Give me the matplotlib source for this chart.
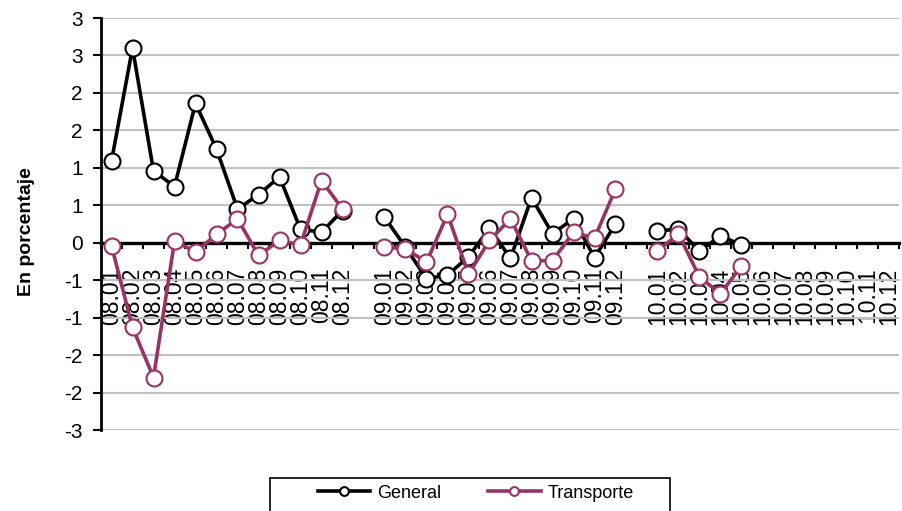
import numpy as np
import matplotlib
matplotlib.use("Agg")
import matplotlib.pyplot as plt
from matplotlib.patches import Rectangle

plt.rcParams['font.family'] = ['Liberation Sans', 'DejaVu Sans']

nan = np.nan
categories = (["08.%02d" % m for m in range(1, 13)] + [""] +
              ["09.%02d" % m for m in range(1, 13)] + [""] +
              ["10.%02d" % m for m in range(1, 13)])

general = [1.09, 2.60, 0.96, 0.75, 1.86, 1.25, 0.45, 0.64, 0.88, 0.18, 0.14, 0.43,
           nan,
           0.34, -0.06, -0.48, -0.43, -0.19, 0.20, -0.21, 0.60, 0.12, 0.32, -0.20, 0.25,
           nan,
           0.16, 0.18, -0.11, 0.09, -0.03, nan, nan, nan, nan, nan, nan, nan]

transporte = [-0.04, -1.13, -1.80, 0.02, -0.12, 0.11, 0.32, -0.17, 0.03, -0.03, 0.83, 0.45,
              nan,
              -0.06, -0.08, -0.26, 0.38, -0.42, 0.03, 0.32, -0.24, -0.24, 0.14, 0.06, 0.72,
              nan,
              -0.11, 0.12, -0.46, -0.68, -0.31, nan, nan, nan, nan, nan, nan, nan]

yticks = [-2.5, -2.0, -1.5, -1.0, -0.5, 0.0, 0.5, 1.0, 1.5, 2.0, 2.5, 3.0]
ytick_labels = ["-3", "-2", "-2", "-1", "-1", "0", "1", "1", "2", "2", "3", "3"]

W, H = 902, 511
fig = plt.figure(figsize=(W / 100, H / 100), dpi=100)
ax = fig.add_axes([101 / W, 1 - 430 / H, 798 / W, 412 / H])

x = np.arange(len(categories))
ax.set_xlim(-0.5, len(categories) - 0.5)
ax.set_ylim(-2.5, 3.0)

ax.set_yticks(yticks)
ax.set_yticklabels(ytick_labels, fontsize=15)
ax.yaxis.grid(True, color='#c0c0c0', linewidth=1.5)
ax.set_axisbelow(True)
ax.tick_params(axis='y', length=6, width=1.5, pad=7, color='black')

# category axis at zero
ax.spines['bottom'].set_position(('data', 0))
ax.spines['bottom'].set_linewidth(2.4)
ax.spines['left'].set_linewidth(2)
ax.spines['top'].set_visible(False)
ax.spines['right'].set_visible(False)

ax.set_xticks(np.arange(len(categories) + 1) - 0.5)
ax.set_xticklabels([])
ax.tick_params(axis='x', which='major', length=4.5, width=1.5, direction='out')
ax.set_xticks(x, minor=True)
ax.set_xticklabels(categories, minor=True, rotation=90, fontsize=16.5)
ax.tick_params(axis='x', which='minor', length=0, pad=18)

lw = 2.6
ax.plot(x, general, color='black', linewidth=lw, marker='o', markersize=11.5,
        markerfacecolor='white', markeredgecolor='black', markeredgewidth=1.5,
        label='General', zorder=3)
ax.plot(x, transporte, color='#993366', linewidth=lw, marker='o', markersize=11.5,
        markerfacecolor='white', markeredgecolor='#993366', markeredgewidth=1.5,
        label='Transporte', zorder=4)

ax.set_ylabel('En porcentaje', fontsize=14, fontweight='bold')
ax.yaxis.set_label_coords(-66 / 798, 0.482)

leg = fig.legend(loc='center left', bbox_to_anchor=(318 / W, 1 - 493 / H), ncol=2,
                 frameon=False, fontsize=13, handlelength=2.9, handletextpad=0.38,
                 columnspacing=2.6, markerscale=0.55, borderpad=0, borderaxespad=0)

frame = Rectangle((270 / W, -0.05), 400 / W, 0.05 + (511 - 478) / H,
                  transform=fig.transFigure, fill=False, edgecolor='black',
                  linewidth=1.2, clip_on=False)
fig.patches.append(frame)

fig.savefig('out.png', dpi=100)
